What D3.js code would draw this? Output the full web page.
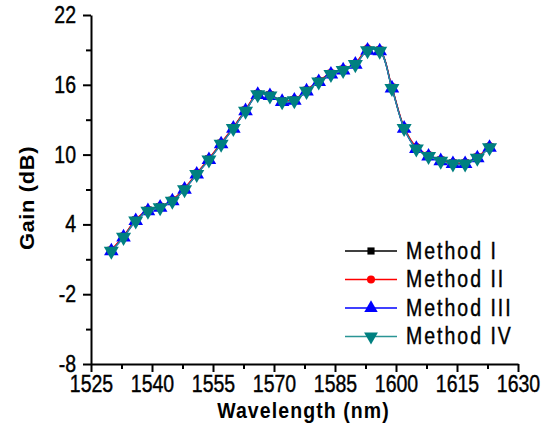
<!DOCTYPE html>
<html>
<head>
<meta charset="utf-8">
<script src="https://cdn.jsdelivr.net/npm/d3@7"></script>
<style>
  body { margin: 0; background: #fff; }
  text { font-family: "Liberation Sans", Arial, sans-serif; }
</style>
</head>
<body>
<div id="chart"></div>
<script>
// wavelength (nm)
var wavelength = [1530, 1533, 1536, 1539, 1542, 1545, 1548, 1551, 1554, 1557, 1560, 1563, 1566, 1569, 1572, 1575,
                  1578, 1581, 1584, 1587, 1590, 1593, 1596, 1599, 1602, 1605, 1608, 1611, 1614, 1617, 1620, 1623];
// gain (dB) per method
var gainI   = [1.75, 2.95, 4.35, 5.2, 5.5, 6.05, 7.05, 8.35, 9.6, 10.95, 12.3, 13.8, 15.2, 15.1, 14.6, 14.7,
               15.5, 16.3, 16.95, 17.3, 17.8, 19.0, 18.95, 15.75, 12.3, 10.55, 9.9, 9.5, 9.25, 9.25, 9.75, 10.65];
var gainII  = [1.8, 3.0, 4.4, 5.25, 5.55, 6.1, 7.1, 8.4, 9.65, 11.0, 12.35, 13.85, 15.25, 15.15, 14.6, 14.75,
               15.55, 16.35, 17.0, 17.35, 17.85, 19.1, 19.0, 15.8, 12.35, 10.65, 9.95, 9.55, 9.3, 9.3, 9.8, 10.7];
var gainIII = [1.7, 2.9, 4.3, 5.15, 5.45, 6.0, 7.0, 8.3, 9.55, 10.9, 12.25, 13.75, 15.15, 15.05, 14.55, 14.65,
               15.45, 16.25, 16.9, 17.25, 17.75, 18.95, 18.9, 15.7, 12.25, 10.5, 9.85, 9.45, 9.2, 9.2, 9.7, 10.6];
var gainIV  = [1.7, 2.9, 4.3, 5.15, 5.45, 6.0, 7.0, 8.3, 9.55, 10.9, 12.25, 13.75, 15.15, 15.05, 14.55, 14.65,
               15.45, 16.25, 16.9, 17.25, 17.75, 18.95, 18.9, 15.7, 12.25, 10.5, 9.85, 9.45, 9.2, 9.2, 9.7, 10.6];

var seriesNames = ["Method I", "Method II", "Method III", "Method IV"];
var xTicks = [1525, 1540, 1555, 1570, 1585, 1600, 1615, 1630];
var xMinor = [1532.5, 1547.5, 1562.5, 1577.5, 1592.5, 1607.5, 1622.5];
var yTicks = [-8, -2, 4, 10, 16, 22];
var yMinor = [-5, 1, 7, 13, 19];

var W = 553, H = 435;
var margin = {top: 15, right: 35, bottom: 71, left: 91};

var svg = d3.select("#chart")
  .append("svg")
    .attr("width", W)
    .attr("height", H);

var x = d3.scaleLinear().domain([1525, 1630]).range([margin.left, W - margin.right]);
var y = d3.scaleLinear().domain([-8, 22]).range([H - margin.bottom, margin.top]);

var styles = [
  {color: "#000000", line: "#000000", sym: d3.symbolSquare, size: 60, rot: 0},
  {color: "#ff0000", line: "#ff0000", sym: d3.symbolCircle, size: 60, rot: 0},
  {color: "#0000ff", line: "#0000ff", sym: d3.symbolTriangle, size: 92, rot: 0},
  {color: "#008080", line: "#2a9595", sym: d3.symbolTriangle, size: 98, rot: 180}
];
var gains = [gainI, gainII, gainIII, gainIV];

// axes
var xAxis = svg.append("g")
  .attr("transform", "translate(0," + y(-8) + ")")
  .call(d3.axisBottom(x).tickValues(xTicks).tickSize(8).tickSizeOuter(0).tickFormat(d3.format("d")));
svg.append("g")
  .attr("transform", "translate(0," + y(-8) + ")")
  .call(d3.axisBottom(x).tickValues(xMinor).tickSize(5).tickSizeOuter(0).tickFormat(""))
  .call(g => g.select(".domain").remove());

var yAxis = svg.append("g")
  .attr("transform", "translate(" + x(1525) + ",0)")
  .call(d3.axisLeft(y).tickValues(yTicks).tickSize(8).tickSizeOuter(0)
    .tickFormat(function(d) { return String(d); }));
svg.append("g")
  .attr("transform", "translate(" + x(1525) + ",0)")
  .call(d3.axisLeft(y).tickValues(yMinor).tickSize(5).tickSizeOuter(0).tickFormat(""))
  .call(g => g.select(".domain").remove());

svg.selectAll(".domain").attr("stroke", "#000").attr("stroke-width", 2);
svg.selectAll(".tick line").attr("stroke", "#000").attr("stroke-width", 2);

function tickText(sel, tr) {
  sel.attr("x", null).attr("y", null).attr("dy", null)
    .attr("transform", tr)
    .style("font-size", "19.5px")
    .attr("fill", "#000")
    .attr("stroke", "#000")
    .attr("stroke-width", 0.35);
}
tickText(xAxis.selectAll("text"), "translate(0,28) scale(1,1.18)");
tickText(yAxis.selectAll("text"), "translate(-15,7.5) scale(1,1.18)");

// axis titles
svg.append("text")
  .attr("transform", "translate(" + (x(1577.5) - 1) + "," + 418 + ") scale(1,1.12)")
  .attr("text-anchor", "middle")
  .style("font-size", "19.5px")
  .style("font-weight", "bold")
  .style("letter-spacing", "1.1px")
  .text("Wavelength (nm)");

svg.append("text")
  .attr("transform", "translate(34," + 198 + ") rotate(-90) scale(1.12,1)")
  .attr("text-anchor", "middle")
  .style("font-size", "19.5px")
  .style("font-weight", "bold")
  .style("letter-spacing", "0.6px")
  .text("Gain (dB)");

// lines + markers
var line = d3.line()
  .x(function(d) { return x(d[0]); })
  .y(function(d) { return y(d[1]); })
  .curve(d3.curveCatmullRom);

gains.forEach(function(g, i) {
  var pts = wavelength.map(function(w, j) { return [w, g[j]]; });
  var st = styles[i];
  svg.append("path")
    .datum(pts)
    .attr("fill", "none")
    .attr("stroke", st.line)
    .attr("stroke-width", 1.4)
    .attr("d", line);
  svg.append("g").selectAll("path")
    .data(pts)
    .enter()
    .append("path")
      .attr("d", d3.symbol().type(st.sym).size(st.size))
      .attr("transform", function(d) {
        return "translate(" + x(d[0]) + "," + y(d[1]) + ") rotate(" + st.rot + ")";
      })
      .attr("fill", st.color);
});

// legend
var legend = svg.append("g");
seriesNames.forEach(function(name, i) {
  var st = styles[i];
  var ly = 251 + i * 28.5;
  legend.append("line")
    .attr("x1", 345).attr("x2", 397)
    .attr("y1", ly).attr("y2", ly)
    .attr("stroke", st.line)
    .attr("stroke-width", 1.4);
  legend.append("path")
    .attr("d", d3.symbol().type(st.sym).size(st.size * 0.85))
    .attr("transform", "translate(371," + ly + ") rotate(" + st.rot + ")")
    .attr("fill", st.color);
  legend.append("text")
    .attr("transform", "translate(406," + (ly + 7.5) + ") scale(1,1.18)")
    .style("font-size", "19.5px")
    .style("letter-spacing", "2px")
    .attr("fill", "#000")
    .attr("stroke", "#000")
    .attr("stroke-width", 0.35)
    .text(name);
});
</script>
</body>
</html>
